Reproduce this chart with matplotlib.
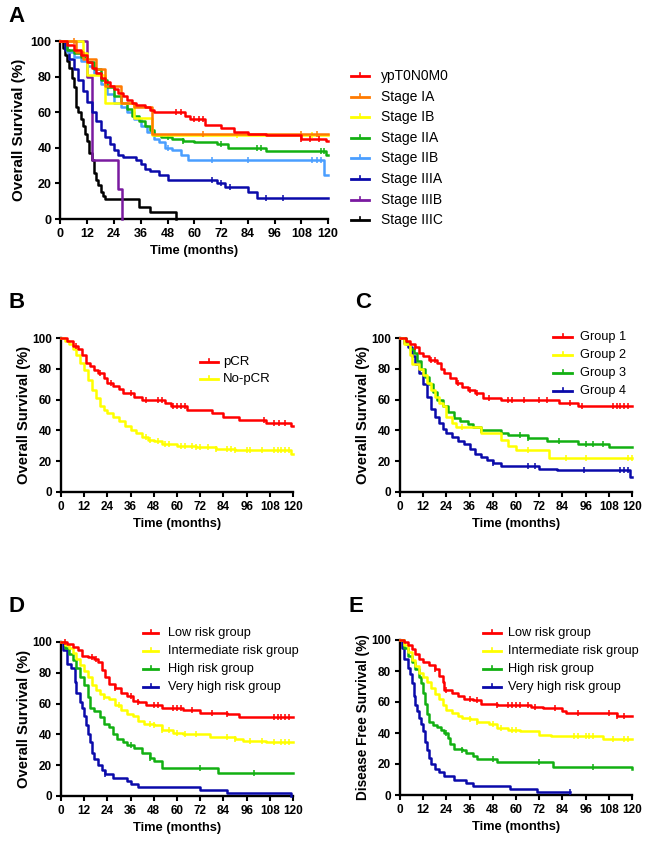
import numpy as np
import matplotlib
matplotlib.use("Agg")
import matplotlib.pyplot as plt
from matplotlib.lines import Line2D

plt.rcParams['font.family'] = ['Liberation Sans', 'DejaVu Sans']

# ---------------- Panel A data ----------------
a_labels = ["ypT0N0M0", "Stage IA", "Stage IB", "Stage IIA", "Stage IIB",
            "Stage IIIA", "Stage IIIB", "Stage IIIC"]
a_colors = ["#FF0000", "#FF7A00", "#FFFF00", "#12B012", "#4A9EFF",
            "#0A0AAA", "#7A1AA0", "#000000"]
a_ypt_t = [0, 3, 6, 9, 12, 14, 16, 18, 20, 22, 24, 26, 28, 30, 32, 34, 38, 40, 42, 56, 58, 65, 72, 78, 84, 92, 108, 119, 120]
a_ypt_s = [100, 98, 95, 92, 88, 85, 82, 79, 77, 75, 73, 71, 69, 67, 65, 64, 63, 61, 60, 58, 56, 53, 51, 49, 48, 47, 45, 44, 44]
a_ypt_c = [52, 54, 60, 62, 64, 108, 112, 116]
a_ia_t = [0, 7, 10, 16, 20, 27, 33, 41, 120]
a_ia_s = [100, 94, 90, 84, 75, 65, 63, 48, 48]
a_ia_c = [6, 64, 108, 115]
a_ib_t = [0, 10, 12, 20, 33, 41, 120]
a_ib_s = [100, 93, 81, 65, 57, 47, 47]
a_ib_c = [79, 113]
a_iia_t = [0, 3, 6, 9, 12, 15, 18, 21, 24, 27, 30, 32, 35, 38, 40, 42, 45, 50, 55, 60, 70, 75, 92, 119, 120]
a_iia_s = [100, 95, 93, 91, 88, 84, 78, 74, 69, 65, 62, 58, 55, 52, 50, 47, 46, 45, 44, 43, 42, 40, 38, 36, 36]
a_iia_c = [48, 55, 72, 88, 90, 117, 118]
a_iib_t = [0, 3, 6, 9, 12, 15, 18, 21, 24, 27, 30, 33, 36, 39, 42, 44, 47, 50, 54, 57, 118, 120]
a_iib_s = [100, 94, 91, 89, 86, 82, 76, 70, 65, 63, 60, 56, 52, 49, 45, 43, 40, 39, 36, 33, 25, 25]
a_iib_c = [48, 68, 84, 113, 115, 117]
a_iiia_t = [0, 2, 4, 6, 8, 10, 12, 14, 16, 18, 20, 22, 24, 26, 28, 34, 36, 38, 40, 44, 48, 70, 74, 84, 88, 120]
a_iiia_s = [100, 95, 90, 84, 78, 72, 66, 60, 55, 50, 46, 42, 39, 36, 35, 33, 31, 28, 27, 25, 22, 20, 18, 15, 12, 12]
a_iiia_c = [68, 72, 76, 92, 100]
a_iiib_t = [0, 12, 14, 26, 27.5]
a_iiib_s = [100, 80, 33, 17, 0]
a_iiib_c = []
a_iiic_t = [0, 1, 2, 3, 4, 5, 6, 7, 8, 9, 10, 11, 12, 13, 14, 15, 16, 17, 18, 19, 20, 35, 40, 52]
a_iiic_s = [100, 96, 92, 89, 85, 79, 74, 63, 60, 56, 52, 48, 44, 37, 33, 26, 22, 19, 15, 13, 11, 7, 4, 0]
a_iiic_c = []

# ---------------- Panel B data ----------------
b_labels = ["pCR", "No-pCR"]
b_colors = ["#FF0000", "#FFFF00"]
b_pcr_t = [0, 3, 6, 9, 11, 13, 15, 17, 19, 22, 24, 27, 30, 32, 38, 42, 54, 57, 65, 78, 84, 92, 106, 119, 120]
b_pcr_s = [100, 98, 95, 93, 89, 84, 82, 79, 77, 74, 71, 69, 67, 64, 62, 60, 58, 56, 53, 51, 49, 47, 45, 43, 43]
b_pcr_c = [8, 20, 26, 36, 44, 50, 52, 58, 60, 62, 64, 105, 110, 113, 116]
b_no_t = [0, 2, 4, 6, 8, 10, 12, 14, 16, 18, 20, 22, 24, 27, 30, 33, 36, 39, 42, 45, 48, 52, 60, 70, 80, 90, 119, 120]
b_no_s = [100, 98, 96, 93, 89, 84, 79, 73, 66, 61, 56, 53, 51, 49, 46, 43, 40, 38, 36, 34, 33, 31, 30, 29, 28, 27, 25, 25]
b_no_c = [44, 46, 50, 54, 56, 62, 64, 68, 70, 72, 76, 80, 86, 88, 90, 96, 98, 104, 110, 112, 114, 116, 118]

# ---------------- Panel C data ----------------
c_labels = ["Group 1", "Group 2", "Group 3", "Group 4"]
c_colors = ["#FF0000", "#FFFF00", "#12B012", "#0A0AAA"]
c_g1_t = [0, 3, 5, 8, 10, 12, 15, 19, 21, 23, 26, 29, 32, 35, 39, 43, 52, 82, 92, 120]
c_g1_s = [100, 98, 96, 94, 90, 88, 86, 84, 80, 77, 74, 71, 68, 66, 64, 61, 60, 58, 56, 56]
c_g1_c = [8, 16, 18, 30, 36, 40, 46, 56, 58, 64, 72, 76, 88, 94, 110, 112, 114, 116, 118]
c_g2_t = [0, 2, 5, 6, 10, 12, 14, 16, 18, 20, 22, 24, 27, 29, 42, 52, 56, 60, 77, 120]
c_g2_s = [100, 96, 89, 83, 80, 76, 71, 66, 62, 58, 56, 49, 45, 42, 38, 34, 30, 27, 22, 22]
c_g2_c = [32, 66, 86, 96, 118, 120]
c_g3_t = [0, 3, 5, 7, 9, 11, 13, 15, 17, 19, 22, 25, 28, 31, 35, 38, 42, 52, 56, 66, 76, 92, 108, 120]
c_g3_s = [100, 96, 93, 90, 85, 80, 75, 70, 65, 60, 56, 52, 48, 46, 44, 42, 40, 38, 37, 35, 33, 31, 29, 29]
c_g3_c = [42, 62, 66, 82, 96, 100, 105]
c_g4_t = [0, 2, 4, 6, 8, 10, 12, 14, 16, 18, 20, 22, 24, 27, 30, 33, 36, 39, 42, 45, 48, 52, 72, 81, 119, 120]
c_g4_s = [100, 97, 94, 88, 83, 77, 70, 62, 54, 49, 45, 41, 38, 36, 33, 31, 28, 25, 23, 21, 19, 17, 15, 14, 10, 10]
c_g4_c = [48, 66, 70, 95, 114, 116, 118]

# ---------------- Panel D data ----------------
risk_labels = ["Low risk group", "Intermediate risk group", "High risk group", "Very high risk group"]
risk_colors = ["#FF0000", "#FFFF00", "#12B012", "#0A0AAA"]
d_low_t = [0, 3, 6, 9, 11, 14, 17, 19, 21, 23, 25, 28, 31, 34, 37, 40, 44, 52, 63, 72, 86, 92, 120]
d_low_s = [100, 99, 97, 95, 91, 90, 89, 87, 82, 77, 73, 70, 67, 65, 62, 61, 59, 57, 56, 54, 53, 51, 51]
d_low_c = [2, 16, 18, 28, 36, 40, 48, 50, 58, 60, 62, 68, 78, 86, 110, 112, 114, 116, 118]
d_int_t = [0, 2, 4, 6, 8, 10, 12, 14, 16, 18, 20, 22, 25, 28, 31, 34, 37, 40, 43, 48, 52, 58, 63, 77, 90, 94, 106, 120]
d_int_s = [100, 98, 96, 93, 89, 85, 81, 77, 72, 69, 66, 64, 63, 59, 56, 53, 52, 49, 47, 46, 43, 41, 40, 38, 37, 36, 35, 35]
d_int_c = [22, 30, 46, 48, 52, 56, 60, 64, 70, 86, 90, 98, 104, 110, 114, 116, 118]
d_high_t = [0, 2, 4, 6, 8, 10, 12, 14, 15, 17, 20, 22, 25, 27, 29, 32, 34, 38, 42, 46, 48, 52, 81, 120]
d_high_s = [100, 96, 92, 88, 83, 77, 72, 64, 57, 55, 51, 47, 45, 40, 37, 35, 33, 31, 28, 25, 23, 18, 15, 15]
d_high_c = [36, 46, 72, 100]
d_vh_t = [0, 1, 3, 5, 7, 8, 10, 11, 12, 13, 14, 15, 16, 17, 19, 21, 23, 27, 34, 36, 40, 72, 86, 119]
d_vh_s = [100, 95, 86, 83, 74, 67, 61, 57, 52, 46, 40, 35, 28, 24, 20, 17, 14, 12, 10, 8, 6, 4, 2, 0]
d_vh_c = [23]

# ---------------- Panel E data ----------------
e_low_t = [0, 2, 4, 6, 8, 10, 12, 15, 18, 20, 22, 23, 27, 30, 33, 38, 42, 50, 68, 74, 84, 86, 112, 120]
e_low_s = [100, 99, 97, 94, 91, 88, 86, 84, 81, 77, 73, 68, 66, 64, 62, 61, 59, 58, 57, 56, 54, 53, 51, 51]
e_low_c = [18, 24, 36, 40, 50, 56, 58, 60, 62, 66, 70, 80, 92, 108, 112, 116]
e_int_t = [0, 2, 4, 6, 8, 10, 12, 14, 16, 18, 20, 22, 24, 27, 30, 32, 36, 40, 46, 50, 56, 62, 72, 78, 105, 120]
e_int_s = [100, 97, 92, 87, 83, 79, 76, 73, 69, 65, 62, 58, 55, 53, 51, 50, 49, 47, 46, 43, 42, 41, 39, 38, 36, 36]
e_int_c = [36, 40, 48, 52, 58, 60, 90, 92, 96, 98, 100, 110, 116, 118]
e_high_t = [0, 2, 4, 6, 8, 10, 11, 12, 13, 14, 15, 17, 19, 21, 23, 25, 26, 28, 32, 34, 38, 40, 50, 79, 120]
e_high_s = [100, 95, 90, 86, 81, 76, 72, 66, 59, 52, 47, 45, 44, 42, 40, 37, 33, 30, 29, 27, 25, 23, 21, 18, 17]
e_high_c = [24, 32, 48, 72, 100]
e_vh_t = [0, 1, 2, 4, 5, 6, 7, 8, 9, 10, 11, 12, 13, 14, 15, 16, 18, 20, 23, 28, 34, 38, 57, 71, 88]
e_vh_s = [100, 95, 88, 82, 78, 72, 64, 58, 54, 50, 46, 41, 34, 29, 24, 20, 17, 15, 12, 10, 8, 6, 4, 2, 2]
e_vh_c = [88]

xticks = list(range(0, 121, 12))
yticks = [0, 20, 40, 60, 80, 100]

W, H = 650, 843
fig = plt.figure(figsize=(W / 100, H / 100), dpi=100)


def add_ax(x0, x1, y0, y1):
    return fig.add_axes([x0 / W, 1 - y1 / H, (x1 - x0) / W, (y1 - y0) / H])


def style(ax, ylabel, yfs=10.6, ypad=0.5, tfs=8.5):
    ax.set_xlim(0, 120)
    ax.set_ylim(0, 100)
    ax.set_xticks(xticks)
    ax.set_yticks(yticks)
    for s in ['top', 'right']:
        ax.spines[s].set_visible(False)
    for s in ['left', 'bottom']:
        ax.spines[s].set_linewidth(1.7)
    ax.tick_params(width=1.5, length=3.5, labelsize=tfs, pad=3)
    for lab in ax.get_xticklabels() + ax.get_yticklabels():
        lab.set_fontweight('bold')
    ax.set_xlabel("Time (months)", fontsize=9.3, fontweight='bold', labelpad=3.5)
    ax.set_ylabel(ylabel, fontsize=yfs, fontweight='bold', labelpad=ypad)


def km(ax, t, s, cens, color, z):
    ax.step(t, s, where='post', color=color, lw=1.8, clip_on=False, zorder=z)
    if cens:
        t_arr = np.asarray(t)
        cs = [s[max(np.searchsorted(t_arr, c, side='right') - 1, 0)] for c in cens]
        ax.plot(cens, cs, ls='none', marker='|', ms=5, mew=1.1, color=color,
                clip_on=False, zorder=z)


def legend(labels, colors, x0, x1, xt, ys, fs):
    for lab, col, y in zip(labels, colors, ys):
        yf = 1 - y / H
        fig.add_artist(Line2D([x0 / W, x1 / W], [yf, yf], color=col, lw=2))
        xm = (x0 + x1) / 2 / W
        fig.add_artist(Line2D([xm, xm], [yf, yf + 3 / H], color=col, lw=1.2))
        fig.text(xt / W, yf, lab, fontsize=fs, va='center', ha='left')


def panel_letter(txt, x, y):
    fig.text(x / W, 1 - y / H, txt, fontsize=16, fontweight='bold', va='center', ha='left')


# Panel A
axA = add_ax(60.5, 328, 41, 219)
a_series = [(a_ypt_t, a_ypt_s, a_ypt_c), (a_ia_t, a_ia_s, a_ia_c), (a_ib_t, a_ib_s, a_ib_c),
            (a_iia_t, a_iia_s, a_iia_c), (a_iib_t, a_iib_s, a_iib_c), (a_iiia_t, a_iiia_s, a_iiia_c),
            (a_iiib_t, a_iiib_s, a_iiib_c), (a_iiic_t, a_iiic_s, a_iiic_c)]
for i, ((t, s, c), col) in enumerate(zip(a_series, a_colors)):
    km(axA, t, s, c, col, 10 - i)
style(axA, "Overall Survival (%)", 10.9, 3, 9)
legend(a_labels, a_colors, 351, 369, 381, [76 + k * 20.6 for k in range(8)], 10)
panel_letter("A", 8, 16)

# Panel B
axB = add_ax(61, 293, 338, 492)
km(axB, b_no_t, b_no_s, b_no_c, b_colors[1], 3)
km(axB, b_pcr_t, b_pcr_s, b_pcr_c, b_colors[0], 4)
style(axB, "Overall Survival (%)")
legend(b_labels, b_colors, 200, 218, 223, [362, 379], 9.5)
panel_letter("B", 8, 302)

# Panel C
axC = add_ax(400, 632, 338, 492)
c_series = [(c_g1_t, c_g1_s, c_g1_c), (c_g2_t, c_g2_s, c_g2_c), (c_g3_t, c_g3_s, c_g3_c), (c_g4_t, c_g4_s, c_g4_c)]
for i, ((t, s, c), col) in enumerate(zip(c_series, c_colors)):
    km(axC, t, s, c, col, 10 - i)
style(axC, "Overall Survival (%)")
legend(c_labels, c_colors, 553, 572, 580, [337, 355, 373, 391], 9.2)
panel_letter("C", 355, 303)

# Panel D
axD = add_ax(61, 293, 642, 796)
d_series = [(d_low_t, d_low_s, d_low_c), (d_int_t, d_int_s, d_int_c), (d_high_t, d_high_s, d_high_c), (d_vh_t, d_vh_s, d_vh_c)]
for i, ((t, s, c), col) in enumerate(zip(d_series, risk_colors)):
    km(axD, t, s, c, col, 10 - i)
style(axD, "Overall Survival (%)")
legend(risk_labels, risk_colors, 143, 158, 168, [633, 651, 669, 687], 9.2)
panel_letter("D", 8, 606)

# Panel E
axE = add_ax(400, 632, 640, 795)
e_series = [(e_low_t, e_low_s, e_low_c), (e_int_t, e_int_s, e_int_c), (e_high_t, e_high_s, e_high_c), (e_vh_t, e_vh_s, e_vh_c)]
for i, ((t, s, c), col) in enumerate(zip(e_series, risk_colors)):
    km(axE, t, s, c, col, 10 - i)
style(axE, "Disease Free Survival (%)", 9.8)
legend(risk_labels, risk_colors, 483, 501, 508, [633, 651, 669, 687], 9.2)
panel_letter("E", 349, 607)

fig.savefig("out.png", dpi=100)
